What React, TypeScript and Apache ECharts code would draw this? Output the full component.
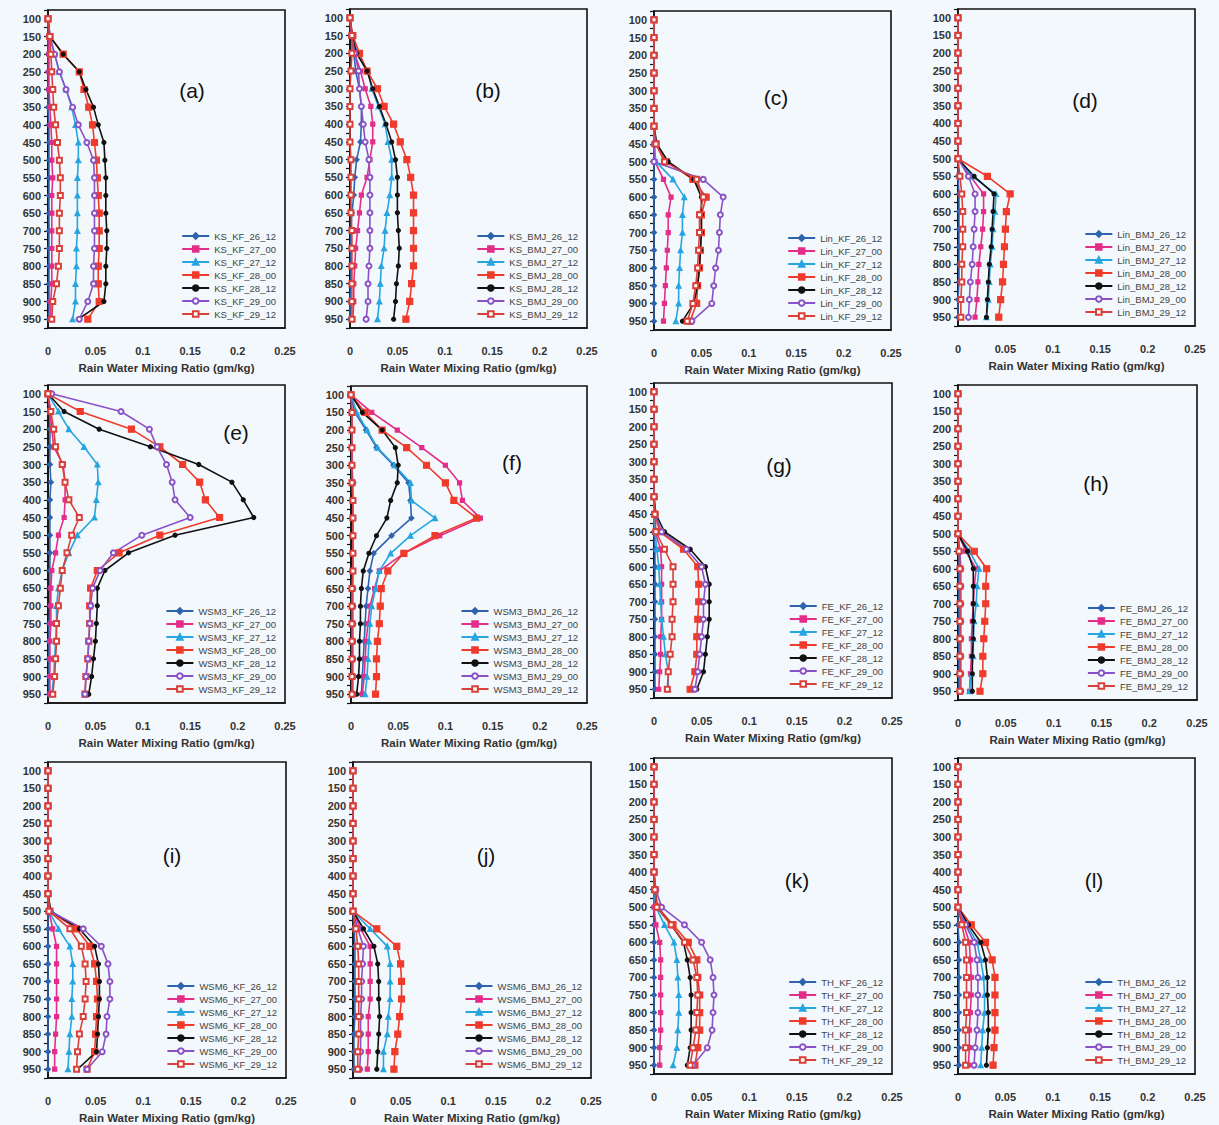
import React, { useEffect, useRef } from "react";
import * as echarts from "echarts";

// Pressure levels (hPa), top of the profile first
const levels = [100, 150, 200, 250, 300, 350, 400, 450, 500, 550, 600, 650, 700, 750, 800, 850, 900, 950];

// Forecast runs shown in every panel (day_hour)
const runs = ["26_12", "27_00", "27_12", "28_00", "28_12", "29_00", "29_12"];

// Microphysics / cumulus scheme combination of each panel
const schemes = [
  "KS_KF", "KS_BMJ", "Lin_KF", "Lin_BMJ",
  "WSM3_KF", "WSM3_BMJ", "FE_KF", "FE_BMJ",
  "WSM6_KF", "WSM6_BMJ", "TH_KF", "TH_BMJ",
];
const panelTags = ["(a)", "(b)", "(c)", "(d)", "(e)", "(f)", "(g)", "(h)", "(i)", "(j)", "(k)", "(l)"];

// Rain water mixing ratio (gm/kg); one row per run, one column per level
const ksKf = [
  [0, 0, 0, 0, 0, 0, 0.001, 0.001, 0.001, 0.001, 0.001, 0.001, 0.001, 0.001, 0.001, 0.001, 0.001, 0.001],
  [0, 0.001, 0.001, 0.001, 0.001, 0.002, 0.003, 0.004, 0.004, 0.005, 0.004, 0.004, 0.004, 0.004, 0.004, 0.004, 0.003, 0.003],
  [0, 0.002, 0.007, 0.012, 0.019, 0.025, 0.029, 0.032, 0.032, 0.031, 0.031, 0.031, 0.031, 0.030, 0.030, 0.029, 0.029, 0.026],
  [0, 0.002, 0.016, 0.033, 0.038, 0.043, 0.047, 0.049, 0.051, 0.052, 0.053, 0.054, 0.054, 0.054, 0.053, 0.053, 0.054, 0.042],
  [0, 0.002, 0.016, 0.033, 0.040, 0.048, 0.053, 0.059, 0.060, 0.061, 0.061, 0.061, 0.062, 0.062, 0.061, 0.061, 0.059, 0.032],
  [0, 0.002, 0.007, 0.012, 0.019, 0.026, 0.032, 0.041, 0.048, 0.049, 0.049, 0.049, 0.049, 0.049, 0.048, 0.048, 0.042, 0.033],
  [0, 0.002, 0.003, 0.004, 0.005, 0.006, 0.008, 0.010, 0.012, 0.013, 0.013, 0.012, 0.012, 0.012, 0.011, 0.009, 0.005, 0.004],
];
const ksBmj = [
  [0, 0.002, 0.004, 0.006, 0.010, 0.012, 0.012, 0.011, 0.007, 0.005, 0.004, 0.002, 0.001, 0.001, 0.001, 0.001, 0, 0],
  [0, 0.001, 0.005, 0.011, 0.016, 0.022, 0.024, 0.024, 0.021, 0.018, 0.012, 0.010, 0.008, 0.006, 0.005, 0.004, 0.004, 0.003],
  [0, 0.002, 0.008, 0.019, 0.023, 0.030, 0.037, 0.040, 0.044, 0.044, 0.042, 0.039, 0.037, 0.036, 0.033, 0.032, 0.031, 0.029],
  [0, 0.003, 0.010, 0.018, 0.029, 0.036, 0.046, 0.053, 0.060, 0.064, 0.067, 0.067, 0.067, 0.067, 0.067, 0.065, 0.063, 0.059],
  [0, 0.002, 0.007, 0.018, 0.024, 0.031, 0.038, 0.044, 0.048, 0.050, 0.050, 0.050, 0.051, 0.052, 0.051, 0.049, 0.048, 0.046],
  [0, 0.002, 0.005, 0.009, 0.010, 0.012, 0.014, 0.016, 0.020, 0.021, 0.021, 0.021, 0.021, 0.021, 0.020, 0.019, 0.019, 0.017],
  [0, 0.002, 0.002, 0.001, 0, 0, 0, 0, 0.001, 0.001, 0.001, 0.001, 0.002, 0.002, 0.002, 0.002, 0.002, 0.002],
];
const linKf = [
  [0, 0, 0, 0, 0, 0, 0, 0, 0, 0, 0, 0, 0, 0, 0, 0, 0, 0],
  [0, 0, 0, 0, 0, 0, 0, 0, 0.001, 0.010, 0.018, 0.015, 0.015, 0.014, 0.013, 0.012, 0.011, 0.010],
  [0, 0, 0, 0, 0, 0, 0, 0, 0.002, 0.020, 0.032, 0.030, 0.030, 0.028, 0.027, 0.026, 0.026, 0.023],
  [0, 0, 0, 0, 0, 0, 0, 0.002, 0.013, 0.041, 0.055, 0.050, 0.050, 0.049, 0.048, 0.046, 0.045, 0.038],
  [0, 0, 0, 0, 0, 0, 0, 0.003, 0.015, 0.042, 0.050, 0.050, 0.050, 0.049, 0.048, 0.046, 0.042, 0.030],
  [0, 0, 0, 0, 0, 0, 0, 0.001, 0, 0.052, 0.073, 0.070, 0.069, 0.068, 0.065, 0.063, 0.061, 0.040],
  [0, 0, 0, 0, 0, 0, 0, 0.002, 0.011, 0.045, 0.052, 0.048, 0.048, 0.047, 0.046, 0.044, 0.041, 0.035],
];
const linBmj = [
  [0, 0, 0, 0, 0, 0, 0, 0, 0, 0, 0.001, 0.001, 0.001, 0.001, 0.001, 0.001, 0, 0],
  [0, 0, 0, 0, 0, 0, 0, 0, 0, 0.013, 0.027, 0.027, 0.026, 0.024, 0.022, 0.021, 0.020, 0.018],
  [0, 0, 0, 0, 0, 0, 0, 0, 0, 0.015, 0.040, 0.039, 0.037, 0.036, 0.034, 0.033, 0.032, 0.030],
  [0, 0, 0, 0, 0, 0, 0, 0, 0, 0.031, 0.055, 0.051, 0.050, 0.049, 0.048, 0.047, 0.045, 0.043],
  [0, 0, 0, 0, 0, 0, 0, 0, 0, 0.017, 0.038, 0.037, 0.036, 0.035, 0.033, 0.032, 0.031, 0.030],
  [0, 0, 0, 0, 0, 0, 0, 0, 0, 0.011, 0.018, 0.018, 0.017, 0.016, 0.015, 0.013, 0.012, 0.011],
  [0, 0, 0, 0, 0, 0, 0, 0, 0, 0.002, 0.004, 0.005, 0.005, 0.005, 0.004, 0.004, 0.003, 0.003],
];
const wsm3Kf = [
  [0, 0.002, 0.002, 0.002, 0.002, 0.003, 0.002, 0.002, 0.002, 0.002, 0.002, 0.002, 0.002, 0.001, 0.001, 0.001, 0.001, 0.001],
  [0, 0.002, 0.004, 0.006, 0.016, 0.018, 0.018, 0.017, 0.011, 0.008, 0.004, 0.003, 0.003, 0.003, 0.002, 0.002, 0.002, 0.002],
  [0, 0.011, 0.022, 0.038, 0.052, 0.053, 0.051, 0.049, 0.031, 0.022, 0.015, 0.011, 0.009, 0.009, 0.008, 0.007, 0.006, 0.004],
  [0, 0.034, 0.088, 0.118, 0.142, 0.160, 0.166, 0.181, 0.118, 0.075, 0.052, 0.045, 0.044, 0.044, 0.043, 0.042, 0.040, 0.039],
  [0, 0.017, 0.054, 0.108, 0.159, 0.194, 0.206, 0.217, 0.134, 0.085, 0.060, 0.052, 0.052, 0.051, 0.050, 0.048, 0.046, 0.043],
  [0.004, 0.077, 0.107, 0.115, 0.125, 0.131, 0.134, 0.150, 0.099, 0.069, 0.055, 0.047, 0.045, 0.044, 0.043, 0.042, 0.040, 0.039],
  [0, 0.003, 0.006, 0.008, 0.015, 0.018, 0.022, 0.033, 0.025, 0.020, 0.015, 0.013, 0.011, 0.009, 0.009, 0.008, 0.007, 0.005],
];
const wsm3Bmj = [
  [0, 0.004, 0.016, 0.027, 0.045, 0.061, 0.063, 0.064, 0.043, 0.024, 0.020, 0.018, 0.016, 0.015, 0.014, 0.013, 0.012, 0.011],
  [0, 0.022, 0.049, 0.075, 0.100, 0.115, 0.118, 0.137, 0.094, 0.056, 0.030, 0.025, 0.020, 0.018, 0.016, 0.015, 0.014, 0.012],
  [0, 0.006, 0.017, 0.028, 0.046, 0.063, 0.064, 0.089, 0.063, 0.042, 0.030, 0.026, 0.022, 0.020, 0.019, 0.018, 0.017, 0.015],
  [0, 0.015, 0.033, 0.059, 0.080, 0.100, 0.109, 0.133, 0.089, 0.056, 0.039, 0.032, 0.031, 0.030, 0.028, 0.027, 0.027, 0.026],
  [0, 0.012, 0.033, 0.047, 0.050, 0.049, 0.042, 0.038, 0.027, 0.019, 0.013, 0.011, 0.010, 0.010, 0.009, 0.009, 0.008, 0.006],
  [0, 0.001, 0.001, 0.001, 0.001, 0.002, 0.002, 0.002, 0.002, 0.002, 0.002, 0.002, 0.002, 0.002, 0.002, 0.002, 0.002, 0.002],
  [0, 0.001, 0.001, 0.001, 0.001, 0.001, 0.002, 0.002, 0.002, 0.002, 0.002, 0.001, 0.001, 0.001, 0.001, 0.001, 0.001, 0.001],
];
const feKf = [
  [0, 0, 0, 0, 0, 0, 0, 0, 0, 0.001, 0.001, 0.001, 0.001, 0.001, 0.001, 0.001, 0.001, 0.001],
  [0, 0, 0, 0, 0, 0, 0, 0, 0.001, 0.007, 0.008, 0.008, 0.008, 0.008, 0.007, 0.007, 0.006, 0.005],
  [0, 0, 0, 0, 0, 0, 0, 0, 0.001, 0.003, 0.005, 0.006, 0.007, 0.008, 0.010, 0.012, 0.015, 0.015],
  [0, 0, 0, 0, 0, 0, 0, 0.001, 0.006, 0.031, 0.046, 0.047, 0.047, 0.046, 0.045, 0.045, 0.043, 0.038],
  [0, 0, 0, 0, 0, 0, 0, 0.002, 0.011, 0.038, 0.054, 0.058, 0.058, 0.058, 0.056, 0.054, 0.052, 0.045],
  [0, 0, 0, 0, 0, 0, 0, 0.001, 0.008, 0.034, 0.050, 0.054, 0.052, 0.052, 0.050, 0.048, 0.046, 0.043],
  [0, 0, 0, 0, 0, 0, 0, 0.001, 0.002, 0.011, 0.020, 0.020, 0.020, 0.019, 0.019, 0.017, 0.015, 0.014],
];
const feBmj = [
  [0, 0, 0, 0, 0, 0, 0, 0, 0, 0.001, 0.001, 0.001, 0.001, 0.001, 0.001, 0.001, 0.001, 0.001],
  [0, 0, 0, 0, 0, 0, 0, 0, 0, 0.008, 0.019, 0.017, 0.016, 0.015, 0.014, 0.014, 0.013, 0.012],
  [0, 0, 0, 0, 0, 0, 0, 0, 0, 0.012, 0.022, 0.020, 0.019, 0.017, 0.016, 0.016, 0.014, 0.012],
  [0, 0, 0, 0, 0, 0, 0, 0, 0, 0.017, 0.030, 0.029, 0.029, 0.028, 0.027, 0.026, 0.026, 0.023],
  [0, 0, 0, 0, 0, 0, 0, 0, 0, 0.010, 0.016, 0.016, 0.016, 0.016, 0.016, 0.015, 0.015, 0.015],
  [0, 0, 0, 0, 0, 0, 0, 0, 0, 0.002, 0.003, 0.003, 0.003, 0.003, 0.003, 0.003, 0.003, 0.003],
  [0, 0, 0, 0, 0, 0, 0, 0, 0, 0.001, 0.002, 0.002, 0.002, 0.002, 0.002, 0.002, 0.002, 0.002],
];
const wsm6Kf = [
  [0, 0, 0, 0, 0, 0, 0, 0, 0, 0, 0, 0, 0, 0, 0, 0, 0, 0],
  [0, 0, 0, 0, 0, 0, 0, 0, 0.001, 0.005, 0.009, 0.009, 0.009, 0.009, 0.009, 0.008, 0.007, 0.007],
  [0, 0, 0, 0, 0, 0, 0, 0, 0.001, 0.011, 0.023, 0.026, 0.026, 0.025, 0.025, 0.023, 0.022, 0.021],
  [0, 0, 0, 0, 0, 0, 0, 0, 0.002, 0.030, 0.044, 0.049, 0.051, 0.052, 0.051, 0.050, 0.049, 0.041],
  [0, 0, 0, 0, 0, 0, 0, 0, 0.003, 0.033, 0.049, 0.053, 0.054, 0.054, 0.053, 0.052, 0.051, 0.031],
  [0, 0, 0, 0, 0, 0, 0, 0, 0.002, 0.037, 0.056, 0.063, 0.065, 0.065, 0.062, 0.061, 0.057, 0.041],
  [0, 0, 0, 0, 0, 0, 0, 0, 0.001, 0.023, 0.035, 0.039, 0.040, 0.039, 0.037, 0.033, 0.031, 0.030],
];
const wsm6Bmj = [
  [0, 0, 0, 0, 0, 0, 0, 0, 0, 0.001, 0.002, 0.002, 0.002, 0.002, 0.002, 0.001, 0.001, 0.001],
  [0, 0, 0, 0, 0, 0, 0, 0, 0, 0.008, 0.018, 0.018, 0.018, 0.018, 0.016, 0.016, 0.016, 0.015],
  [0, 0, 0, 0, 0, 0, 0, 0, 0, 0.018, 0.036, 0.039, 0.039, 0.039, 0.037, 0.036, 0.032, 0.032],
  [0, 0, 0, 0, 0, 0, 0, 0, 0, 0.025, 0.046, 0.050, 0.051, 0.051, 0.049, 0.047, 0.044, 0.043],
  [0, 0, 0, 0, 0, 0, 0, 0, 0, 0.011, 0.022, 0.026, 0.027, 0.027, 0.028, 0.027, 0.026, 0.025],
  [0, 0, 0, 0, 0, 0, 0, 0, 0, 0.005, 0.011, 0.010, 0.009, 0.009, 0.008, 0.008, 0.008, 0.007],
  [0, 0, 0, 0, 0, 0, 0, 0, 0, 0.003, 0.005, 0.006, 0.006, 0.006, 0.006, 0.006, 0.005, 0.005],
];
const thKf = [
  [0, 0, 0, 0, 0, 0, 0, 0, 0, 0, 0, 0, 0, 0, 0, 0, 0, 0],
  [0, 0, 0, 0, 0, 0, 0, 0, 0, 0.002, 0.006, 0.007, 0.007, 0.007, 0.007, 0.007, 0.006, 0.006],
  [0, 0, 0, 0, 0, 0, 0, 0, 0.002, 0.011, 0.021, 0.024, 0.025, 0.026, 0.026, 0.025, 0.024, 0.020],
  [0, 0, 0, 0, 0, 0, 0, 0.001, 0.004, 0.020, 0.036, 0.045, 0.046, 0.048, 0.048, 0.048, 0.046, 0.043],
  [0, 0, 0, 0, 0, 0, 0, 0.001, 0.003, 0.018, 0.031, 0.035, 0.038, 0.039, 0.039, 0.039, 0.038, 0.035],
  [0, 0, 0, 0, 0, 0, 0, 0.002, 0.008, 0.032, 0.050, 0.059, 0.062, 0.063, 0.062, 0.061, 0.056, 0.041],
  [0, 0, 0, 0, 0, 0, 0, 0.001, 0.003, 0.018, 0.032, 0.041, 0.045, 0.046, 0.045, 0.044, 0.041, 0.038],
];
const thBmj = [
  [0, 0, 0, 0, 0, 0, 0, 0, 0, 0, 0.001, 0.001, 0.001, 0.001, 0.001, 0.001, 0.001, 0.001],
  [0, 0, 0, 0, 0, 0, 0, 0, 0, 0.006, 0.012, 0.013, 0.014, 0.014, 0.013, 0.012, 0.012, 0.011],
  [0, 0, 0, 0, 0, 0, 0, 0, 0, 0.009, 0.020, 0.024, 0.027, 0.028, 0.028, 0.026, 0.025, 0.024],
  [0, 0, 0, 0, 0, 0, 0, 0, 0, 0.014, 0.029, 0.036, 0.039, 0.039, 0.039, 0.039, 0.038, 0.037],
  [0, 0, 0, 0, 0, 0, 0, 0, 0, 0.011, 0.024, 0.029, 0.031, 0.031, 0.032, 0.032, 0.031, 0.030],
  [0, 0, 0, 0, 0, 0, 0, 0, 0, 0.008, 0.017, 0.020, 0.021, 0.021, 0.021, 0.020, 0.018, 0.017],
  [0, 0, 0, 0, 0, 0, 0, 0, 0, 0.004, 0.008, 0.009, 0.009, 0.009, 0.009, 0.008, 0.008, 0.008],
];

const panelValues = [ksKf, ksBmj, linKf, linBmj, wsm3Kf, wsm3Bmj, feKf, feBmj, wsm6Kf, wsm6Bmj, thKf, thBmj];

// Page size and plot boxes [left, top, right, bottom] in pixels
const W = 1219;
const H = 1125;
const boxes = [
  [48, 10, 285, 328], [350, 9, 587, 328], [654, 11, 891, 330], [958, 9, 1195, 326],
  [48, 385, 285, 703], [351, 386, 587, 703], [654, 383, 892, 698], [958, 385, 1197, 700],
  [48, 762, 286, 1078], [353, 762, 591, 1078], [654, 758, 892, 1074], [958, 758, 1195, 1074],
];
// Centre of each panel tag
const tagPos = [
  [192, 90], [488, 90], [776, 97], [1085, 100],
  [236, 432], [512, 462], [779, 465], [1096, 483],
  [172, 855], [486, 855], [797, 880], [1094, 880],
];

// Line colour and marker for each run
const runStyles = [
  { color: "#2f63ad", symbol: "diamond", size: 5 },
  { color: "#e42d88", symbol: "rect", size: 4 },
  { color: "#27a5df", symbol: "triangle", size: 5 },
  { color: "#ef3b2b", symbol: "rect", size: 6 },
  { color: "#111111", symbol: "circle", size: 4 },
  { color: "#8a52c6", symbol: "emptyCircle", size: 5 },
  { color: "#d9403a", symbol: "emptyRect", size: 5 },
];

const FONT = "'Liberation Sans', Arial, sans-serif";

function buildOption() {
  const grid: any[] = [];
  const xAxis: any[] = [];
  const yAxis: any[] = [];
  const legend: any[] = [];
  const series: any[] = [];
  const graphic: any[] = [];

  boxes.forEach(([l, t, r, b], p) => {
    grid.push({
      left: l,
      top: t,
      width: r - l,
      height: b - t,
      show: true,
      borderColor: "#111",
      borderWidth: 1.6,
      backgroundColor: "transparent",
    });
    xAxis.push({
      type: "value",
      gridIndex: p,
      min: 0,
      max: 0.25,
      interval: 0.05,
      axisLine: { show: true, lineStyle: { color: "#111", width: 1.6 } },
      axisTick: { show: false },
      splitLine: { show: false },
      axisLabel: { margin: 17, fontSize: 11, fontWeight: "bold", color: "#333", fontFamily: FONT },
      name: "Rain Water Mixing Ratio (gm/kg)",
      nameLocation: "middle",
      nameGap: 34,
      nameTextStyle: { fontSize: 11.5, fontWeight: "bold", color: "#333", fontFamily: FONT },
    });
    yAxis.push({
      type: "value",
      gridIndex: p,
      inverse: true,
      min: 75,
      max: 975,
      interval: 25,
      axisLine: { show: true, lineStyle: { color: "#111", width: 1.6 } },
      axisTick: { show: true, length: 4, lineStyle: { color: "#111", width: 1.2 } },
      splitLine: { show: false },
      axisLabel: {
        margin: 7,
        fontSize: 11,
        fontWeight: "bold",
        color: "#333",
        fontFamily: FONT,
        showMinLabel: true,
        showMaxLabel: true,
        formatter: (v: number) => (v % 50 === 0 && v >= 100 && v <= 950 ? String(v) : ""),
      },
    });

    const names = runs.map((run) => `${schemes[p]}_${run}`);
    legend.push({
      data: names,
      orient: "vertical",
      right: W - r + 9,
      bottom: H - (b - 9),
      padding: 0,
      itemWidth: 27,
      itemHeight: 7,
      itemGap: 3,
      selectedMode: false,
      textStyle: { fontSize: 9.5, color: "#444", fontFamily: FONT, lineHeight: 10 },
    });

    panelValues[p].forEach((row, k) => {
      const st = runStyles[k];
      series.push({
        type: "line",
        name: names[k],
        xAxisIndex: p,
        yAxisIndex: p,
        data: row.map((v, i) => [v, levels[i]]),
        symbol: st.symbol,
        symbolSize: st.size,
        showAllSymbol: true,
        lineStyle: { color: st.color, width: 1.6 },
        itemStyle: { color: st.color, borderColor: st.color, borderWidth: 1.2 },
        emphasis: { disabled: true },
      });
    });

    graphic.push({
      type: "text",
      x: tagPos[p][0],
      y: tagPos[p][1],
      style: {
        text: panelTags[p],
        fill: "#111",
        font: `21px ${FONT}`,
        align: "center",
        verticalAlign: "middle",
        textAlign: "center",
        textVerticalAlign: "middle",
      },
    });
  });

  return {
    animation: false,
    backgroundColor: "#f3f8fc",
    grid,
    xAxis,
    yAxis,
    legend,
    series,
    graphic,
  };
}

export default function App() {
  const ref = useRef<HTMLDivElement>(null);
  useEffect(() => {
    if (!ref.current) return;
    const chart = echarts.init(ref.current, undefined, { renderer: "svg" });
    chart.setOption(buildOption());
    return () => chart.dispose();
  }, []);
  return (
    <div
      ref={ref}
      style={{ position: "absolute", left: 0, top: 0, width: W, height: H }}
    />
  );
}
